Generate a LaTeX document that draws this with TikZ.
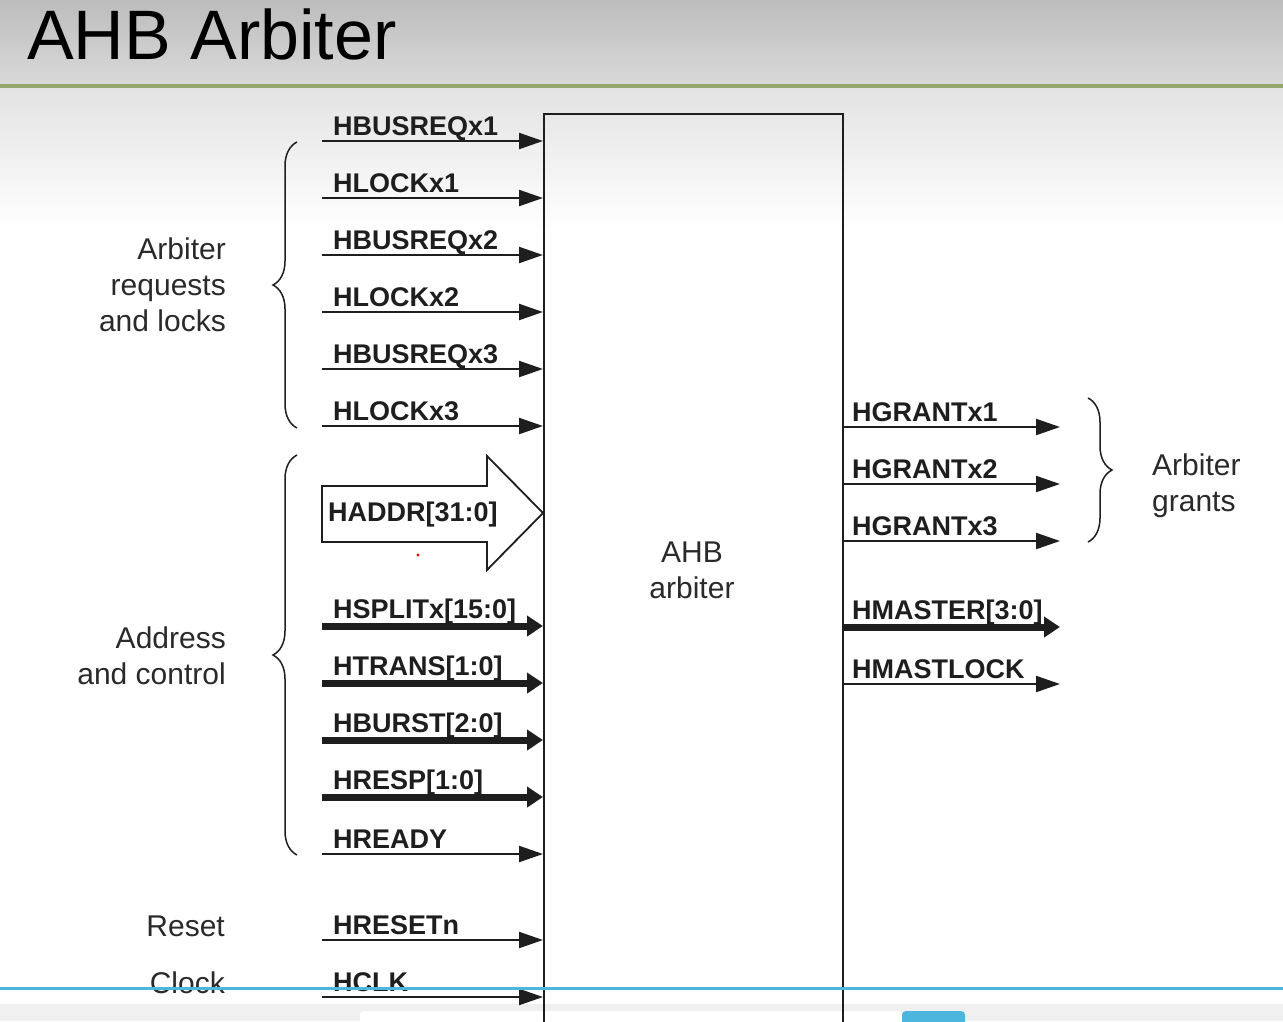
\documentclass[tikz,border=0pt]{standalone}
\usepackage{fontspec}
\setmainfont{Liberation Sans}
\usetikzlibrary{arrows.meta,decorations.pathreplacing}
\definecolor{ink}{HTML}{1E1E1E}
\definecolor{note}{HTML}{2A2A2A}
\definecolor{olive}{HTML}{95A86C}
\definecolor{skyline}{HTML}{4DB6DF}
\begin{document}
\begin{tikzpicture}[x=1pt,y=-1pt,
  sig/.style={font=\fontsize{27}{30}\selectfont\bfseries, text=ink, anchor=base west, inner sep=0pt},
  note/.style={font=\fontsize{30}{36}\selectfont, text=note, inner sep=0pt},
  wire/.style={draw=ink, line width=2.2pt, -{Triangle[length=24pt,width=16pt]}},
  buswire/.style={draw=ink, line width=7pt, -{Triangle[length=16pt,width=20pt]}},
  bracestyle/.style={draw=ink, line width=1.5pt, decorate, decoration={brace, amplitude=24pt}}]
\useasboundingbox (0,0) rectangle (1283,1021);
\clip (0,0) rectangle (1283,1021);
\fill[white] (0,0) rectangle (1283,1021);
% header
\fill[top color=black!26, bottom color=black!15] (0,0) rectangle (1283,84);
\fill[olive] (0,84) rectangle (1283,88);
\fill[top color=black!11, bottom color=white] (0,88) rectangle (1283,230);
\node[font=\fontsize{70}{80}\selectfont, text=black, anchor=base west, inner sep=0pt] (title) at (27,59) {AHB Arbiter};
% bottom strip
\fill[black!6] (0,1004) rectangle (1283,1021);
\fill[white, rounded corners=4pt] (360,1011) rectangle (902,1030);
\fill[skyline, rounded corners=4pt] (902,1011) rectangle (965,1030);
% arbiter box
\node[draw=ink, line width=2pt, minimum width=299pt, minimum height=940pt, inner sep=0pt, anchor=north west] (arb) at (543,113) {};
\node[note, align=center] (arblbl) at (692,570) {AHB\\arbiter};
% inputs
\foreach \yy/\tt/\nn in {141/HBUSREQx1/a1, 198/HLOCKx1/a2, 255/HBUSREQx2/a3, 312/HLOCKx2/a4, 369/HBUSREQx3/a5, 426/HLOCKx3/a6, 854/HREADY/c5, 940/HRESETn/r1, 997/HCLK/k1} {
  \coordinate (\nn) at (322,\yy);
  \draw[wire] (\nn) -- (\nn -| arb.west);
  \node[sig] (\nn-l) at (333,\yy-6) {\tt};
}
\foreach \yy/\tt/\nn in {626/HSPLITx[15:0]/c1, 683/HTRANS[1:0]/c2, 740/HBURST[2:0]/c3, 797/HRESP[1:0]/c4} {
  \coordinate (\nn) at (322,\yy);
  \draw[buswire] (\nn) -- (\nn -| arb.west);
  \node[sig] (\nn-l) at (333,\yy-8) {\tt};
}
% HADDR block arrow
\draw[ink, line width=1.8pt, fill=white, line join=miter] (322,486) -- (487,486) -- (487,456) -- (543,513) -- (487,570) -- (487,542) -- (322,542) -- cycle;
\node[sig] (haddr) at (328,521) {HADDR[31:0]};
\fill[red] (418,555) circle (1.6);
% outputs
\foreach \yy/\tt/\nn in {427/HGRANTx1/g1, 484/HGRANTx2/g2, 541/HGRANTx3/g3, 684/HMASTLOCK/ml} {
  \coordinate (\nn) at (1060,\yy);
  \draw[wire] (\nn -| arb.east) -- (\nn);
  \node[sig] (\nn-l) at (852,\yy-6) {\tt};
}
\coordinate (ms) at (1060,627);
\draw[buswire] (ms -| arb.east) -- (ms);
\node[sig] (ms-l) at (852,619) {HMASTER[3:0]};
% braces
\draw[bracestyle] (297,428) -- (297,142);
\draw[bracestyle] (297,855) -- (297,455);
\draw[bracestyle] (1088,398) -- (1088,542);
% group notes
\node[note, align=right, anchor=east] (reqs) at (226,285) {Arbiter\\requests\\and locks};
\node[note, align=right, anchor=east] (addr) at (226,656) {Address\\and control};
\node[note, anchor=east] (reset) at (225,926) {Reset};
\node[note, anchor=east] (clock) at (225,983) {Clock};
\node[note, align=left, anchor=west] (grants) at (1152,486) {Arbiter\\grants};
% screen line
\fill[skyline] (0,987) rectangle (1283,989.5);
\end{tikzpicture}
\end{document}
